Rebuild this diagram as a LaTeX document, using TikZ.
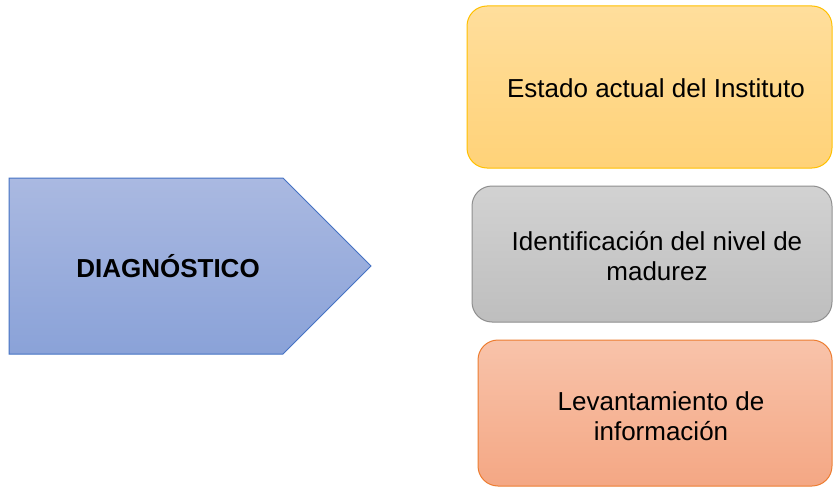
\documentclass[tikz,border=0pt]{standalone}
\usepackage{fontspec}
\setmainfont{Liberation Sans}
\definecolor{arrTop}{HTML}{AAB9E1}
\definecolor{arrBot}{HTML}{8AA2D8}
\definecolor{arrLine}{HTML}{4472C4}
\definecolor{yTop}{HTML}{FFDE9C}
\definecolor{yBot}{HTML}{FFD278}
\definecolor{yLine}{HTML}{FFC000}
\definecolor{gTop}{HTML}{D2D2D2}
\definecolor{gBot}{HTML}{BEBEBE}
\definecolor{gLine}{HTML}{8F8F8F}
\definecolor{oTop}{HTML}{F8C3AA}
\definecolor{oBot}{HTML}{F4A784}
\definecolor{oLine}{HTML}{ED7D31}
\begin{document}
\begin{tikzpicture}[x=1pt,y=-1pt]
\tikzset{
  lbl/.style={font=\fontsize{26}{30}\selectfont, align=center, text=black, inner sep=0pt},
  boxy/.style={rounded corners=20pt, line width=1pt, inner sep=0pt},
}
\useasboundingbox (0,0) rectangle (833,487);
\fill[white] (0,0) rectangle (833,487);
% pentagon arrow
\path[draw=arrLine, line width=1pt, top color=arrTop, bottom color=arrBot]
  (9,178) -- (283,178) -- (371,266) -- (283,354) -- (9,354) -- cycle;
\node[lbl, font=\fontsize{26}{30}\selectfont\bfseries, anchor=base] (diag) at (168,277) {DIAGNÓSTICO};
% boxes
\node[boxy, draw=yLine, top color=yTop, bottom color=yBot, minimum width=365pt, minimum height=162pt] (b1) at (649.5,87) {};
\node[boxy, draw=gLine, top color=gTop, bottom color=gBot, minimum width=360pt, minimum height=136pt] (b2) at (652,254) {};
\node[boxy, draw=oLine, top color=oTop, bottom color=oBot, minimum width=354pt, minimum height=146pt] (b3) at (655,413) {};
\node[lbl, anchor=base] (t1) at (656,97) {Estado actual del Instituto};
\node[lbl] (t2) at (657,256) {Identificación del nivel de\\madurez};
\node[lbl] (t3) at (661,416.5) {Levantamiento de\\información};
\end{tikzpicture}
\end{document}
